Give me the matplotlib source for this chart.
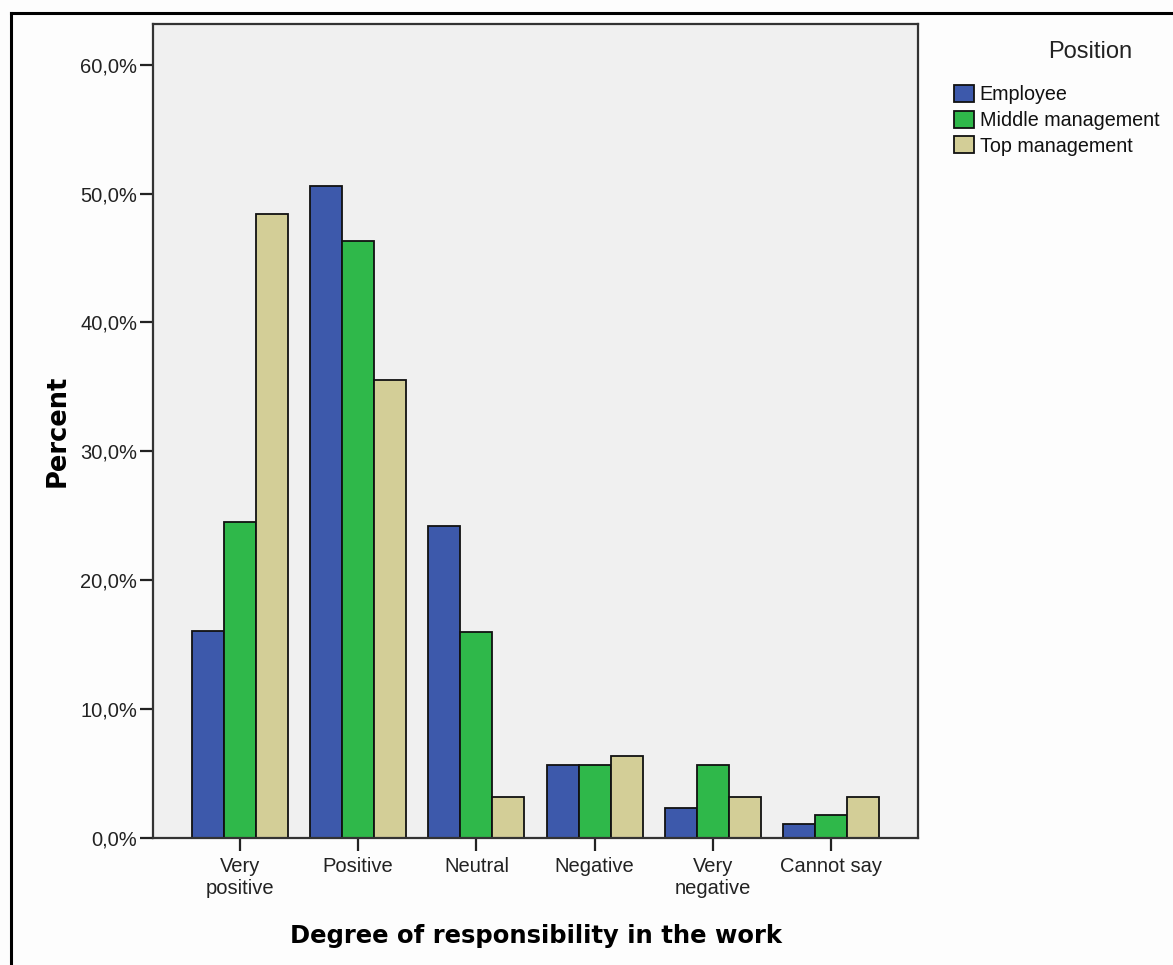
import numpy as np
import matplotlib
matplotlib.use('Agg')
import matplotlib.pyplot as plt
from matplotlib.lines import Line2D

# ── Data ───────────────────────────────────────────
categories = ['Very\npositive', 'Positive', 'Neutral', 'Negative', 'Very\nnegative', 'Cannot say']
employee = [16.1, 50.6, 24.2, 5.7, 2.3, 1.1]
middle_mgmt = [24.5, 46.3, 16.0, 5.7, 5.7, 1.8]
top_mgmt = [48.4, 35.5, 3.2, 6.4, 3.2, 3.2]
series_names = ['Employee', 'Middle management', 'Top management']
yticks = [0, 10, 20, 30, 40, 50, 60]

colors = ['#3d59ab', '#2fb84a', '#d3ce97']

W, H = 1173, 965
fig = plt.figure(figsize=(W / 100, H / 100), dpi=100, facecolor='#fdfdfd')
ax = fig.add_axes([153 / W, 1 - 838 / H, (918 - 153) / W, (838 - 23.5) / H])
ax.set_facecolor('#f0f0f0')

x = np.arange(len(categories))
bw = 0.271
for i, (vals, name) in enumerate(zip([employee, middle_mgmt, top_mgmt], series_names)):
    ax.bar(x + (i - 1) * bw, vals, width=bw, color=colors[i], edgecolor='#111111',
           linewidth=1.3, label=name, zorder=2)

ax.set_xlim(-0.736, len(categories) - 1 + 0.736)
ax.set_ylim(0, 63.2)
ax.set_yticks(yticks)
ax.set_yticklabels([f"{v:.1f}%".replace('.', ',') for v in yticks])
ax.set_xticks(x)
ax.set_xticklabels(categories)

for lab in ax.get_yticklabels() + ax.get_xticklabels():
    lab.set_fontfamily('Liberation Sans')
    lab.set_fontsize(14.5)
    lab.set_color('#222222')
ax.tick_params(axis='both', length=9.5, width=1.6, color='#222222', direction='out')
ax.tick_params(axis='y', pad=2)
ax.tick_params(axis='x', pad=4)

for sp in ax.spines.values():
    sp.set_color('#333333')
    sp.set_linewidth(1.6)

ax.set_ylabel('Percent', fontfamily='DejaVu Sans', fontweight='bold', fontsize=18.5, labelpad=7)
ax.set_xlabel('Degree of responsibility in the work', fontfamily='DejaVu Sans',
              fontweight='bold', fontsize=17.5, labelpad=19)

# legend: title drawn separately so the gap above the entries matches
leg = fig.legend(loc='upper left', bbox_to_anchor=(946 / W, 1 - 77 / H), frameon=False,
                 prop={'family': 'Liberation Sans', 'size': 14.2},
                 handlelength=1.0, handleheight=0.95, handletextpad=0.3,
                 labelspacing=0.33, borderaxespad=0)
for t in leg.get_texts():
    t.set_color('#111111')
fig.text(1090 / W, 1 - 52 / H, 'Position', ha='center', va='center',
         fontfamily='Liberation Sans', fontsize=17, color='#222222')

# outer chart frame (right/bottom edges run off the picture)
fig.add_artist(Line2D([11 / W, 1.0], [1 - 13 / H, 1 - 13 / H], transform=fig.transFigure,
                      color='black', linewidth=2.2))
fig.add_artist(Line2D([11 / W, 11 / W], [0.0, 1 - 13 / H], transform=fig.transFigure,
                      color='black', linewidth=2.2))

plt.savefig('out.png', dpi=100, facecolor=fig.get_facecolor())
plt.close()
